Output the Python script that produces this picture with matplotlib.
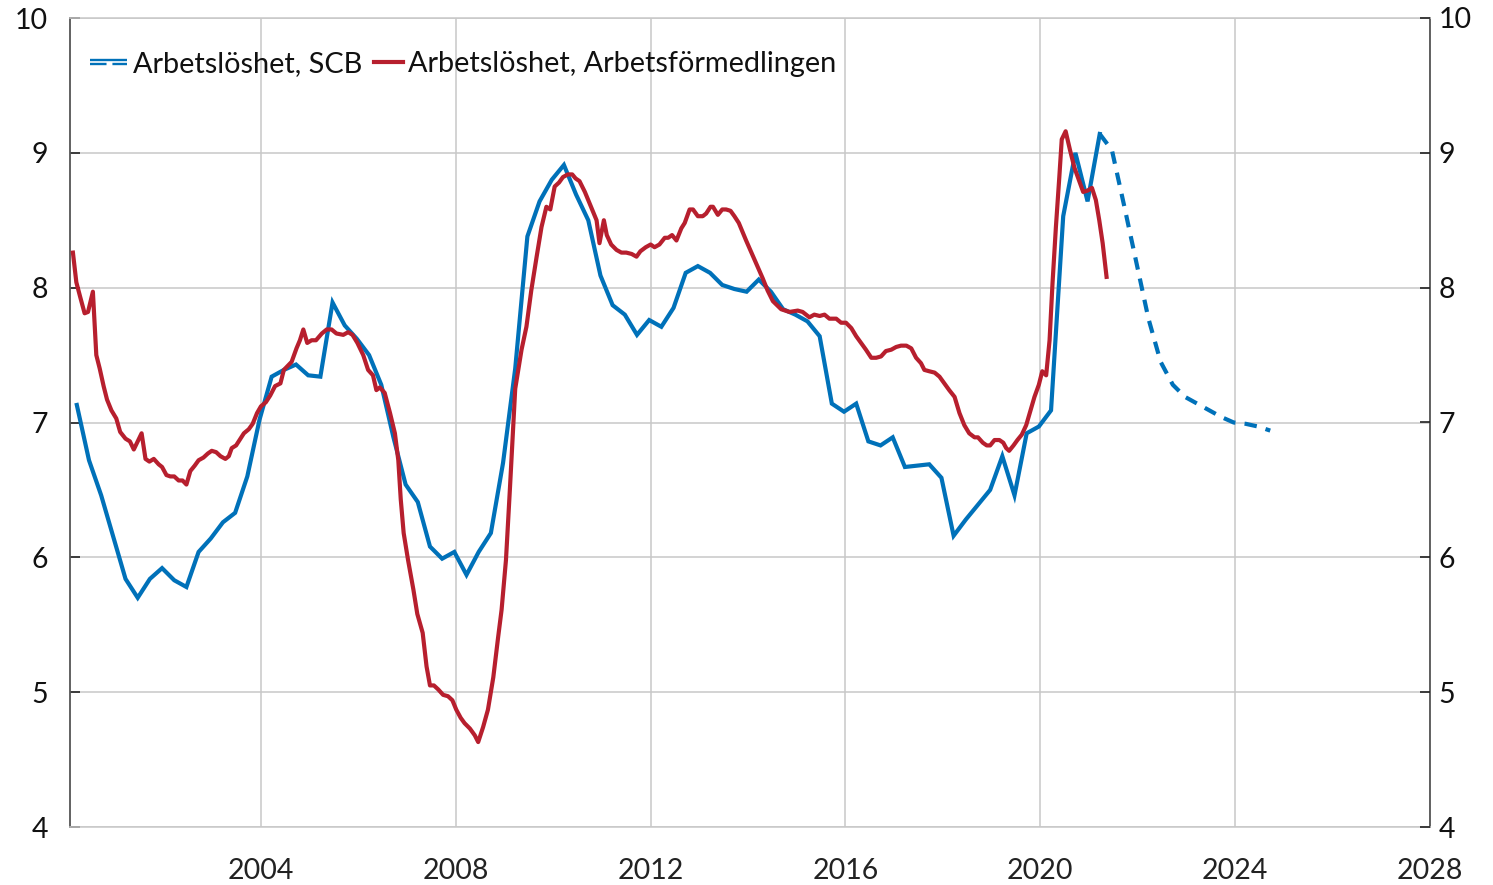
import numpy as np
import matplotlib
matplotlib.use('Agg')
import matplotlib.pyplot as plt
from matplotlib.legend_handler import HandlerBase
from matplotlib.lines import Line2D

plt.rcParams['font.family'] = ['Lato', 'DejaVu Sans']

# Arbetslöshet, SCB - kvartal (utfall)
scb_start = 2000.22
scb_utfall = [7.13, 6.72, 6.46, 6.15,
              5.84, 5.70, 5.84, 5.92,
              5.83, 5.78, 6.04, 6.14,
              6.26, 6.33, 6.60, 7.02,
              7.34, 7.39, 7.43, 7.35,
              7.34, 7.89, 7.72, 7.62,
              7.50, 7.28, 6.89, 6.54,
              6.41, 6.08, 5.99, 6.04,
              5.87, 6.04, 6.18, 6.70,
              7.40, 8.38, 8.64, 8.80,
              8.91, 8.69, 8.50, 8.09,
              7.87, 7.80, 7.65, 7.76,
              7.71, 7.85, 8.11, 8.16,
              8.11, 8.02, 7.99, 7.97,
              8.06, 7.97, 7.84, 7.80,
              7.75, 7.64, 7.14, 7.08,
              7.14, 6.86, 6.83, 6.89,
              6.67, 6.68, 6.69, 6.59,
              6.16, 6.28, 6.39, 6.50,
              6.75, 6.46, 6.92, 6.97,
              7.09, 8.53, 9.00, 8.64,
              9.14]
# prognos, från sista utfallet
scb_prognos = [9.14, 9.02, 8.61, 8.19, 7.77, 7.45, 7.28, 7.19,
               7.14, 7.09, 7.04, 7.00, 6.99, 6.97, 6.94]

# Arbetslöshet, Arbetsförmedlingen - månad
af_tid = [2000.14, 2000.21, 2000.29, 2000.38, 2000.45, 2000.55, 2000.62, 2000.69,
          2000.77, 2000.84, 2000.93, 2001.03, 2001.11, 2001.22, 2001.31, 2001.39,
          2001.55, 2001.63, 2001.71, 2001.80, 2001.90, 2001.97, 2002.06, 2002.14,
          2002.22, 2002.31, 2002.39, 2002.47, 2002.55, 2002.64, 2002.72, 2002.82,
          2002.91, 2002.99, 2003.08, 2003.17, 2003.27, 2003.34, 2003.40, 2003.49,
          2003.58, 2003.65, 2003.75, 2003.83, 2003.92, 2004.00, 2004.10, 2004.19,
          2004.29, 2004.40, 2004.47, 2004.63, 2004.73, 2004.80, 2004.87, 2004.95,
          2005.04, 2005.13, 2005.25, 2005.35, 2005.45, 2005.55, 2005.69, 2005.79,
          2005.88, 2005.98, 2006.10, 2006.20, 2006.30, 2006.37, 2006.44, 2006.54,
          2006.65, 2006.75, 2006.82, 2006.87, 2006.93, 2007.02, 2007.13, 2007.21,
          2007.32, 2007.40, 2007.47, 2007.55, 2007.64, 2007.74, 2007.84, 2007.93,
          2008.01, 2008.10, 2008.18, 2008.29, 2008.39, 2008.46, 2008.56, 2008.66,
          2008.77, 2008.87, 2008.94, 2009.03, 2009.11, 2009.22, 2009.35, 2009.45,
          2009.55, 2009.66, 2009.76, 2009.86, 2009.94, 2010.03, 2010.12, 2010.20,
          2010.30, 2010.39, 2010.46, 2010.54, 2010.65, 2010.73, 2010.82, 2010.89,
          2010.95, 2011.04, 2011.10, 2011.19, 2011.30, 2011.40, 2011.50, 2011.61,
          2011.71, 2011.79, 2011.90, 2012.00, 2012.08, 2012.18, 2012.29, 2012.36,
          2012.44, 2012.53, 2012.63, 2012.70, 2012.80, 2012.87, 2012.97, 2013.07,
          2013.14, 2013.23, 2013.28, 2013.38, 2013.47, 2013.55, 2013.64, 2013.72,
          2013.81, 2013.96, 2014.13, 2014.30, 2014.40, 2014.51, 2014.68, 2014.85,
          2015.02, 2015.12, 2015.26, 2015.36, 2015.47, 2015.57, 2015.67, 2015.81,
          2015.91, 2016.01, 2016.12, 2016.22, 2016.32, 2016.42, 2016.53, 2016.63,
          2016.73, 2016.83, 2016.94, 2017.04, 2017.14, 2017.25, 2017.35, 2017.45,
          2017.55, 2017.62, 2017.72, 2017.83, 2017.93, 2018.03, 2018.13, 2018.24,
          2018.34, 2018.44, 2018.54, 2018.65, 2018.72, 2018.82, 2018.90, 2018.97,
          2019.06, 2019.16, 2019.24, 2019.30, 2019.36, 2019.45, 2019.53, 2019.62,
          2019.71, 2019.79, 2019.88, 2019.97, 2020.04, 2020.12, 2020.19, 2020.25,
          2020.32, 2020.39, 2020.44, 2020.52, 2020.61, 2020.70, 2020.80, 2020.88,
          2020.97, 2021.06, 2021.14, 2021.21, 2021.28, 2021.36]
af_varde = [8.26, 8.04, 7.93, 7.81, 7.82, 7.97, 7.50, 7.40,
            7.27, 7.17, 7.09, 7.03, 6.93, 6.88, 6.86, 6.80,
            6.92, 6.73, 6.71, 6.73, 6.69, 6.67, 6.61, 6.60,
            6.60, 6.57, 6.57, 6.54, 6.64, 6.68, 6.72, 6.74,
            6.77, 6.79, 6.78, 6.75, 6.73, 6.75, 6.81, 6.83,
            6.88, 6.92, 6.95, 6.99, 7.07, 7.12, 7.15, 7.20,
            7.27, 7.29, 7.39, 7.45, 7.55, 7.61, 7.69, 7.59,
            7.61, 7.61, 7.66, 7.69, 7.69, 7.66, 7.65, 7.67,
            7.65, 7.59, 7.50, 7.39, 7.35, 7.24, 7.26, 7.22,
            7.07, 6.92, 6.72, 6.43, 6.18, 5.98, 5.76, 5.58,
            5.44, 5.19, 5.05, 5.05, 5.02, 4.98, 4.97, 4.94,
            4.87, 4.81, 4.77, 4.73, 4.68, 4.63, 4.74, 4.87,
            5.11, 5.41, 5.61, 5.98, 6.50, 7.25, 7.54, 7.71,
            7.98, 8.23, 8.45, 8.60, 8.58, 8.75, 8.78, 8.82,
            8.84, 8.84, 8.81, 8.79, 8.71, 8.64, 8.56, 8.50,
            8.33, 8.50, 8.39, 8.32, 8.28, 8.26, 8.26, 8.25,
            8.23, 8.27, 8.30, 8.32, 8.30, 8.32, 8.37, 8.37,
            8.39, 8.35, 8.44, 8.48, 8.58, 8.58, 8.53, 8.53,
            8.55, 8.60, 8.60, 8.54, 8.58, 8.58, 8.57, 8.53,
            8.48, 8.35, 8.21, 8.07, 7.98, 7.90, 7.84, 7.82,
            7.83, 7.82, 7.78, 7.80, 7.79, 7.80, 7.77, 7.77,
            7.74, 7.74, 7.70, 7.64, 7.59, 7.54, 7.48, 7.48,
            7.49, 7.53, 7.54, 7.56, 7.57, 7.57, 7.55, 7.48,
            7.44, 7.39, 7.38, 7.37, 7.34, 7.29, 7.24, 7.19,
            7.07, 6.98, 6.92, 6.89, 6.89, 6.85, 6.83, 6.83,
            6.87, 6.87, 6.85, 6.81, 6.79, 6.83, 6.87, 6.91,
            6.98, 7.08, 7.19, 7.28, 7.38, 7.35, 7.61, 8.03,
            8.45, 8.82, 9.10, 9.16, 9.02, 8.89, 8.79, 8.71,
            8.72, 8.74, 8.65, 8.50, 8.33, 8.08]

y_ticks = [4, 5, 6, 7, 8, 9, 10]
x_ticks = [2004, 2008, 2012, 2016, 2020, 2024, 2028]

blue = '#0071b9'
red = '#b71f2e'
grid_c = '#c8c8c8'
spine_c = '#555555'
fs = 20.5

scb_tid = scb_start + 0.25 * np.arange(len(scb_utfall))
prognos_tid = scb_tid[-1] + 0.25 * np.arange(len(scb_prognos))


class SolidDashHandler(HandlerBase):
    # legend symbol: solid line on top, dashed line below
    def create_artists(self, legend, orig_handle, xdescent, ydescent,
                       width, height, fontsize, trans):
        y = height / 2 - ydescent
        w = width * 1.3
        l1 = Line2D([-xdescent - (w - width), width], [y + 1.4, y + 1.4],
                    color=blue, lw=1.7, solid_capstyle='butt')
        l2 = Line2D([-xdescent - (w - width), width], [y - 1.4, y - 1.4],
                    color=blue, lw=1.7, dashes=(7, 2.5), dash_capstyle='butt')
        for l in (l1, l2):
            l.set_transform(trans)
        return [l1, l2]


fig = plt.figure(figsize=(14.93, 8.85), dpi=100)
ax = fig.add_axes([70 / 1493, 1 - 827 / 885, 1360 / 1493, 809 / 885])

ax.plot(scb_tid, scb_utfall, color=blue, lw=3.0, solid_joinstyle='miter', zorder=3)
ax.plot(prognos_tid, scb_prognos, color=blue, lw=3.0, dashes=(3.0, 2.2),
        dash_capstyle='butt', zorder=3)
ax.plot(af_tid, af_varde, color=red, lw=3.0, zorder=4)

ax.set_xlim(2000.08, 2028)
ax.set_ylim(4, 10)
ax.set_xticks(x_ticks)
ax.set_yticks(y_ticks)
ax.grid(True, color=grid_c, lw=1.1)
ax.set_axisbelow(True)

for s in ['top', 'bottom']:
    ax.spines[s].set_color(grid_c)
    ax.spines[s].set_linewidth(1.1)
ax.spines['left'].set_color(spine_c)
ax.spines['right'].set_color(spine_c)
ax.spines['left'].set_linewidth(1.3)
ax.spines['right'].set_linewidth(1.3)

ax.tick_params(axis='x', length=0, pad=22, labelsize=fs, labelcolor='#222222')
ax.tick_params(axis='y', direction='in', length=7, width=1.2, color='#222222',
               pad=16, labelsize=fs, labelcolor='#111111')

ax2 = ax.twinx()
ax2.set_ylim(4, 10)
ax2.set_yticks(y_ticks)
ax2.tick_params(axis='y', direction='in', length=7, width=1.2, color='#222222',
                pad=6, labelsize=fs, labelcolor='#111111')
for s in ['top', 'bottom', 'left', 'right']:
    ax2.spines[s].set_visible(False)

h_scb = Line2D([], [], color=blue)
h_af = Line2D([], [], color=red, lw=3.0)
leg = ax.legend([h_scb, h_af],
                ['Arbetslöshet, SCB', 'Arbetslöshet, Arbetsförmedlingen'],
                handler_map={h_scb: SolidDashHandler()},
                loc='upper left', bbox_to_anchor=(0.008, 0.981), ncol=2,
                frameon=False, fontsize=20.8, handlelength=1.0,
                handletextpad=0.2, columnspacing=0.4, borderaxespad=0.2)
for t in leg.get_texts():
    t.set_color('#111111')

fig.savefig('out.png', dpi=100)
